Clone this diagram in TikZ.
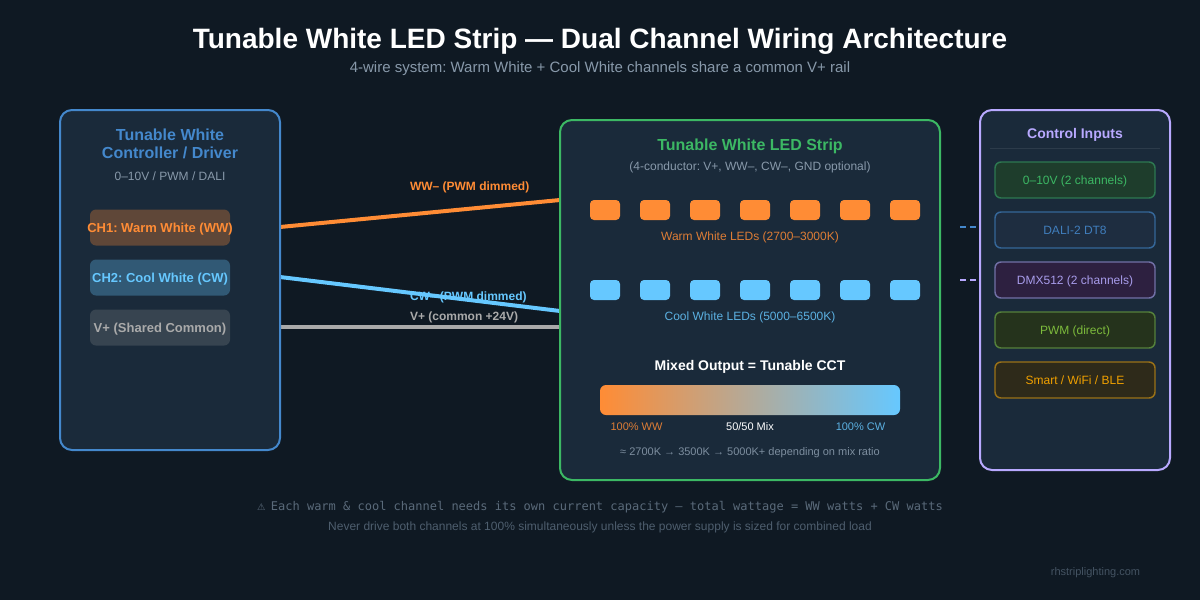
\documentclass[tikz,border=0pt]{standalone}
\usepackage{fontspec}
\setmainfont{Liberation Sans}
\newfontfamily\monof{DejaVu Sans Mono}
\newfontfamily\symf{DejaVu Sans}
\definecolor{bg}{HTML}{0F1923}
\definecolor{panel}{HTML}{1A2A3A}
\definecolor{cblue}{HTML}{4488CC}
\definecolor{cgreen}{HTML}{3CB864}
\definecolor{cpurple}{HTML}{B8A9FF}
\definecolor{corange}{HTML}{FF8C35}
\definecolor{clight}{HTML}{66C8FF}
\definecolor{cgray}{HTML}{AAAAAA}
\definecolor{csub}{HTML}{8899AA}
\definecolor{clime}{HTML}{7DBB3C}
\definecolor{camber}{HTML}{F0A000}
\definecolor{fgreen}{HTML}{1E3D2C}
\definecolor{fblue}{HTML}{1E2D40}
\definecolor{fpurple}{HTML}{2D2040}
\definecolor{flime}{HTML}{25331C}
\definecolor{famber}{HTML}{2E2A1A}
\definecolor{ffa}{HTML}{5A6A7A}
\definecolor{ffb}{HTML}{4E5E6E}
\definecolor{ffc}{HTML}{445362}
\tikzset{
  x=0.75pt,y=-0.75pt,
  txt/.style={anchor=base,inner sep=0pt,outer sep=0pt},
  panelbox/.style={draw,line width=1.5pt,fill=panel,rounded corners=9pt,inner sep=0pt,outer sep=0pt},
  chanbox/.style={rounded corners=4.5pt,minimum width=105pt,minimum height=27pt,inner sep=0pt,outer sep=0pt,
     text height=7pt,text depth=0pt,font=\fontsize{9.75}{12}\selectfont\bfseries},
  inbox/.style={draw,line width=1.1pt,rounded corners=4.5pt,minimum width=120pt,minimum height=27pt,inner sep=0pt,outer sep=0pt,
     text height=6.5pt,text depth=0pt,font=\fontsize{9}{11}\selectfont},
  ledw/.style={fill=corange,rounded corners=3pt,minimum width=22.5pt,minimum height=15pt,inner sep=0pt,outer sep=0pt},
  ledc/.style={fill=clight,rounded corners=3pt,minimum width=22.5pt,minimum height=15pt,inner sep=0pt,outer sep=0pt},
  wire/.style={line width=3pt},
  ctl/.style={line width=1.5pt,dash pattern=on 4.5pt off 3pt},
  wlabel/.style={txt,font=\fontsize{9}{11}\selectfont\bfseries},
}
\begin{document}
\frenchspacing
\begin{tikzpicture}
\useasboundingbox (0,0) rectangle (1200,600);
\fill[bg] (0,0) rectangle (1200,600);
% title
\node[txt,text=white,font=\fontsize{21}{25}\selectfont\bfseries] (title) at (600,48) {Tunable White LED Strip — Dual Channel Wiring Architecture};
\node[txt,text=csub,font=\fontsize{11.25}{13}\selectfont] (subtitle) at (600,72) {4-wire system: Warm White + Cool White channels share a common V+ rail};
% wire labels under wires
\node[wlabel,text=corange,anchor=base west] (lww) at (410,190) {WW– (PWM dimmed)};
\node[wlabel,text=clight,anchor=base west] (lcw) at (410,300) {CW– (PWM dimmed)};
\node[wlabel,text=cgray,anchor=base west] (lvp) at (410,320) {V+ (common +24V)};
% wires
\coordinate (wwa) at (280,227); \coordinate (wwb) at (560,200);
\coordinate (cwa) at (280,277); \coordinate (cwb) at (560,311);
\coordinate (vpa) at (280,327); \coordinate (vpb) at (560,327);
\draw[wire,corange] (wwa) -- (wwb);
\draw[wire,clight] (cwa) -- (cwb);
\draw[wire,cgray] (vpa) -- (vpb);
% control links
\coordinate (da) at (960,227); \coordinate (db) at (980,227);
\coordinate (ea) at (960,280); \coordinate (eb) at (980,280);
\draw[ctl,cblue] (da) -- (db);
\draw[ctl,cpurple] (ea) -- (eb);
% panels
\node[panelbox,draw=cblue,minimum width=165pt,minimum height=255pt] (ctrl) at (170,280) {};
\node[panelbox,draw=cgreen,minimum width=285pt,minimum height=270pt] (strip) at (750,300) {};
\node[panelbox,draw=cpurple,minimum width=142.5pt,minimum height=270pt] (inputs) at (1075,290) {};
% controller
\node[txt,text=cblue,font=\fontsize{12}{14}\selectfont\bfseries] (ct1) at (170,140) {Tunable White};
\node[txt,text=cblue,font=\fontsize{12}{14}\selectfont\bfseries] (ct2) at (170,158) {Controller / Driver};
\node[txt,text=csub,font=\fontsize{9}{11}\selectfont] (ct3) at (170,180) {0–10V / PWM / DALI};
\node[chanbox,fill=corange!30!panel,text=corange] (ch1) at (160,227.5) {\clap{CH1: Warm White (WW)}};
\node[chanbox,fill=clight!30!panel,text=clight] (ch2) at (160,277.5) {\clap{CH2: Cool White (CW)}};
\node[chanbox,fill=cgray!20!panel,text=cgray] (ch3) at (160,327.5) {\clap{V+ (Shared Common)}};
% strip
\node[txt,text=cgreen,font=\fontsize{12}{14}\selectfont\bfseries] (st1) at (750,150) {Tunable White LED Strip};
\node[txt,text=csub,font=\fontsize{9}{11}\selectfont] (st2) at (750,170) {(4-conductor: V+, WW–, CW–, GND optional)};
\foreach \i/\x in {1/605,2/655,3/705,4/755,5/805,6/855,7/905}{
  \node[ledw] (w\i) at (\x,210) {};
  \node[ledc] (c\i) at (\x,290) {};
}
\node[txt,text=corange!85!panel,font=\fontsize{9}{11}\selectfont] (wl) at (750,240) {Warm White LEDs (2700–3000K)};
\node[txt,text=clight!85!panel,font=\fontsize{9}{11}\selectfont] (cl) at (750,320) {Cool White LEDs (5000–6500K)};
\node[txt,text=white,font=\fontsize{10.5}{13}\selectfont\bfseries] (mix) at (750,370) {Mixed Output = Tunable CCT};
\node[left color=corange,right color=clight,rounded corners=4.5pt,minimum width=225pt,minimum height=22.5pt,inner sep=0pt] (bar) at (750,400) {};
\node[txt,text=corange!85!panel,font=\fontsize{8.25}{10}\selectfont] (b1) at (636.5,430) {100\% WW};
\node[txt,text=white,font=\fontsize{8.25}{10}\selectfont] (b2) at (750,430) {50/50 Mix};
\node[txt,text=clight!85!panel,font=\fontsize{8.25}{10}\selectfont] (b3) at (860.5,430) {100\% CW};
\node[txt,text=csub!90!panel,font=\fontsize{8.25}{10}\selectfont] (b4) at (750,455) {≈ 2700K → 3500K → 5000K+ depending on mix ratio};
% inputs
\node[txt,text=cpurple,font=\fontsize{10.5}{13}\selectfont\bfseries] (in0) at (1075,138) {Control Inputs};
\coordinate (diva) at (990,148); \coordinate (divb) at (1160,148);
\draw[line width=0.75pt,color=white!8!panel] (diva) -- (divb);
\node[inbox,draw=cgreen!55!panel,fill=fgreen,text=cgreen] (i1) at (1075,180) {0–10V (2 channels)};
\node[inbox,draw=cblue!65!panel,fill=fblue,text=cblue!90!panel] (i2) at (1075,230) {DALI-2 DT8};
\node[inbox,draw=cpurple!55!panel,fill=fpurple,text=cpurple!90!panel] (i3) at (1075,280) {DMX512 (2 channels)};
\node[inbox,draw=clime!60!panel,fill=flime,text=clime] (i4) at (1075,330) {PWM (direct)};
\node[inbox,draw=camber!60!panel,fill=famber,text=camber] (i5) at (1075,380) {Smart / WiFi / BLE};
% footer
\node[txt,text=ffa,font=\fontsize{9}{11}\selectfont] (f1) at (600,510) {{\symf\fontsize{7}{9}\selectfont ⚠}\hspace{4pt}{\monof Each warm \& cool channel needs its own current capacity — total wattage = WW watts + CW watts}};
\node[txt,text=ffb,font=\fontsize{9}{11}\selectfont] (f2) at (600,530) {Never drive both channels at 100\% simultaneously unless the power supply is sized for combined load};
\node[txt,text=ffc,font=\fontsize{8.25}{10}\selectfont] (f3) at (1095.5,575) {rhstriplighting.com};
\end{tikzpicture}
\end{document}
